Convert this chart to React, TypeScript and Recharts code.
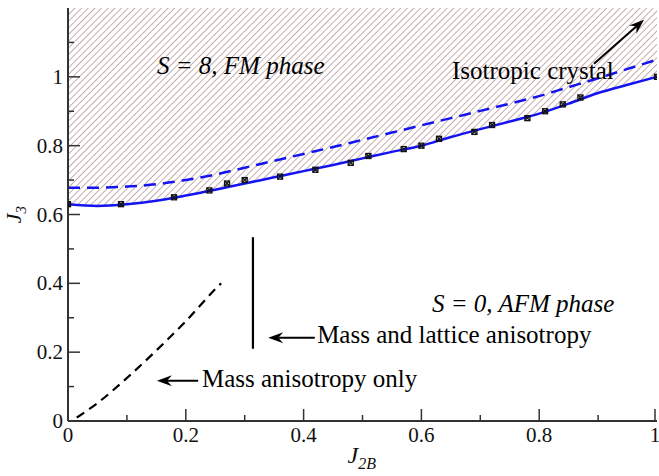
import React from "react";
import {
  ComposedChart,
  XAxis,
  YAxis,
  Line,
  Area,
  Scatter,
  ReferenceLine,
  ReferenceDot,
} from "recharts";

const FONT = "'Liberation Serif', 'Times New Roman', serif";
const BLUE = "#1414f0";
const FRAME = "#333";

// computed transition points (markers)
const pointJ2B = [0, 0.09, 0.18, 0.24, 0.27, 0.3, 0.36, 0.42, 0.48, 0.51, 0.57, 0.6, 0.63, 0.69, 0.72, 0.78, 0.81, 0.84, 0.87, 1.0];
const pointJ3 = [0.63, 0.63, 0.65, 0.67, 0.69, 0.7, 0.71, 0.73, 0.75, 0.77, 0.79, 0.8, 0.82, 0.84, 0.86, 0.88, 0.9, 0.92, 0.94, 1.0];

// smooth boundaries, sampled on the same J2B grid
const curveJ2B = [0, 0.05, 0.1, 0.15, 0.2, 0.25, 0.3, 0.35, 0.4, 0.45, 0.5, 0.55, 0.6, 0.65, 0.7, 0.75, 0.8, 0.85, 0.9, 0.95, 1.0];
const fitJ3 = [0.63, 0.625, 0.63, 0.64, 0.655, 0.672, 0.69, 0.708, 0.726, 0.744, 0.763, 0.782, 0.8, 0.825, 0.848, 0.87, 0.893, 0.922, 0.953, 0.977, 1.0];
const isoJ3 = [0.678, 0.678, 0.681, 0.688, 0.7, 0.716, 0.736, 0.756, 0.776, 0.796, 0.817, 0.838, 0.859, 0.88, 0.901, 0.922, 0.944, 0.97, 0.996, 1.023, 1.05];

// mass anisotropy only
const massJ2B = [0.015, 0.05, 0.1, 0.15, 0.2, 0.25, 0.26];
const massJ3 = [0.01, 0.052, 0.125, 0.205, 0.29, 0.383, 0.4];

// mass and lattice anisotropy
const latticeJ2B = [0.314, 0.314];
const latticeJ3 = [0.21, 0.534];

const xTicks = [0, 0.1, 0.2, 0.3, 0.4, 0.5, 0.6, 0.7, 0.8, 0.9, 1];
const yTicks = [0, 0.1, 0.2, 0.3, 0.4, 0.5, 0.6, 0.7, 0.8, 0.9, 1, 1.1];
const Y_TOP = 1.2;

const toPts = (xs: number[], ys: number[]) => xs.map((x, i) => ({ x, y: ys[i] }));
const pointData = toPts(pointJ2B, pointJ3);
const fitData = toPts(curveJ2B, fitJ3);
const isoData = toPts(curveJ2B, isoJ3);
const massData = toPts(massJ2B, massJ3);
const latticeData = toPts(latticeJ2B, latticeJ3);
const fmData = curveJ2B.map((x, i) => ({ x, band: [fitJ3[i], Y_TOP] }));

const isMajor = (v: number) => Math.round(v * 10) % 2 === 0;
const fmt = (v: number) => (v === 0 ? "0" : v === 1 ? "1" : v.toFixed(1));

const BottomTick = ({ x, y, payload }: any) => {
  const major = isMajor(payload.value);
  return (
    <g>
      <line x1={x} y1={y} x2={x} y2={y - (major ? 12 : 6)} stroke={FRAME} strokeWidth={1.5} />
      {major && (
        <text x={x} y={y + 21} textAnchor="middle" fontSize={21} fontFamily={FONT} fill="#111">
          {fmt(payload.value)}
        </text>
      )}
    </g>
  );
};

const TopTick = ({ x, y, payload }: any) => (
  <line x1={x} y1={y} x2={x} y2={y + (isMajor(payload.value) ? 12 : 6)} stroke={FRAME} strokeWidth={1.5} />
);

const LeftTick = ({ x, y, payload }: any) => {
  const major = isMajor(payload.value);
  return (
    <g>
      <line x1={x} y1={y} x2={x + (major ? 12 : 6)} y2={y} stroke={FRAME} strokeWidth={1.5} />
      {major && (
        <text x={x - 5} y={y + 7} textAnchor="end" fontSize={21} fontFamily={FONT} fill="#111">
          {fmt(payload.value)}
        </text>
      )}
    </g>
  );
};

const RightTick = ({ x, y, payload }: any) => (
  <line x1={x} y1={y} x2={x - (isMajor(payload.value) ? 12 : 6)} y2={y} stroke={FRAME} strokeWidth={1.5} />
);

const XTitle = ({ viewBox }: any) => (
  <text
    x={viewBox.x + viewBox.width / 2 - 15}
    y={viewBox.y + 42}
    fontFamily={FONT}
    fontStyle="italic"
    fontSize={24}
    fill="#111"
  >
    J<tspan fontSize={16} dy={6}>2B</tspan>
  </text>
);

const YTitle = ({ viewBox }: any) => (
  <text
    transform={`translate(${viewBox.x + 21},${viewBox.y + viewBox.height / 2}) rotate(-90)`}
    textAnchor="middle"
    fontFamily={FONT}
    fontStyle="italic"
    fontSize={22}
    fill="#111"
  >
    J<tspan fontSize={15} dy={5}>3</tspan>
  </text>
);

const Marker = ({ cx, cy }: any) => (
  <g stroke="#111" strokeWidth={1.3} fill="none">
    <rect x={cx - 2.5} y={cy - 2.5} width={5} height={5} />
    <path d={`M${cx - 2.5},${cy - 2.5}L${cx + 2.5},${cy + 2.5}M${cx + 2.5},${cy - 2.5}L${cx - 2.5},${cy + 2.5}`} />
  </g>
);

const arrowShape = (p: any) => {
  const { x1, y1, x2, y2 } = p;
  const a = Math.atan2(y2 - y1, x2 - x1);
  const L = 15;
  const W = 5.5;
  const bx = x2 - L * Math.cos(a);
  const by = y2 - L * Math.sin(a);
  const nx = x2 - 10 * Math.cos(a);
  const ny = y2 - 10 * Math.sin(a);
  const px = -Math.sin(a) * W;
  const py = Math.cos(a) * W;
  return (
    <g>
      <line x1={x1} y1={y1} x2={nx} y2={ny} stroke="#000" strokeWidth={2} />
      <path d={`M${x2},${y2}L${bx + px},${by + py}L${nx},${ny}L${bx - px},${by - py}Z`} fill="#000" />
    </g>
  );
};

const note = (txt: string, italic = false) => (p: any) => (
  <text
    x={p.cx}
    y={p.cy}
    fontFamily={FONT}
    fontStyle={italic ? "italic" : "normal"}
    fontSize={25}
    fill="#000"
  >
    {txt}
  </text>
);

export default function App() {
  return (
    <div style={{ position: "absolute", left: 0, top: 0, background: "#fff" }}>
      <ComposedChart width={659} height={476} margin={{ top: 8, right: 2, bottom: 0, left: 0 }}>
        <defs>
          <pattern id="hatch" patternUnits="userSpaceOnUse" width={4.7} height={4.7} patternTransform="rotate(45)">
            <line x1={2.35} y1={0} x2={2.35} y2={4.7} stroke="#c0a4a4" strokeWidth={0.9} />
          </pattern>
        </defs>
        <XAxis
          type="number"
          dataKey="x"
          domain={[0, 1]}
          ticks={xTicks}
          height={55}
          tickSize={0}
          tickMargin={0}
          tick={<BottomTick />}
          axisLine={{ stroke: FRAME, strokeWidth: 2 }}
          allowDataOverflow
          label={{ content: XTitle }}
        />
        <XAxis
          xAxisId="top"
          orientation="top"
          type="number"
          domain={[0, 1]}
          ticks={xTicks}
          height={0}
          tickSize={0}
          tickMargin={0}
          tick={<TopTick />}
          axisLine={{ stroke: FRAME, strokeWidth: 2 }}
          allowDataOverflow
        />
        <YAxis
          type="number"
          domain={[0, Y_TOP]}
          ticks={yTicks}
          width={68}
          tickSize={0}
          tickMargin={0}
          tick={<LeftTick />}
          axisLine={{ stroke: FRAME, strokeWidth: 2 }}
          allowDataOverflow
          label={{ content: YTitle }}
        />
        <YAxis
          yAxisId="right"
          orientation="right"
          type="number"
          domain={[0, Y_TOP]}
          ticks={yTicks}
          width={0}
          tickSize={0}
          tickMargin={0}
          tick={<RightTick />}
          axisLine={{ stroke: FRAME, strokeWidth: 2 }}
          allowDataOverflow
        />

        <Area
          data={fmData}
          dataKey="band"
          type="monotone"
          fill="url(#hatch)"
          fillOpacity={1}
          stroke="none"
          isAnimationActive={false}
        />
        <Line data={isoData} dataKey="y" type="monotone" stroke={BLUE} strokeWidth={2.5} strokeDasharray="12 7" dot={false} isAnimationActive={false} />
        <Line data={fitData} dataKey="y" type="monotone" stroke={BLUE} strokeWidth={2.5} dot={false} isAnimationActive={false} />
        <Line data={massData} dataKey="y" type="monotone" stroke="#000" strokeWidth={2.2} strokeDasharray="9 6" dot={false} isAnimationActive={false} />
        <Line data={latticeData} dataKey="y" type="linear" stroke="#000" strokeWidth={2.2} dot={false} isAnimationActive={false} />
        <Scatter data={pointData} dataKey="y" shape={<Marker />} isAnimationActive={false} />

        <ReferenceLine segment={[{ x: 0.893, y: 1.038 }, { x: 0.978, y: 1.166 }]} shape={arrowShape} ifOverflow="visible" />
        <ReferenceLine segment={[{ x: 0.419, y: 0.242 }, { x: 0.34, y: 0.242 }]} shape={arrowShape} ifOverflow="visible" />
        <ReferenceLine segment={[{ x: 0.221, y: 0.117 }, { x: 0.151, y: 0.117 }]} shape={arrowShape} ifOverflow="visible" />

        <ReferenceDot x={0.151} y={1.009} r={0} shape={note("S = 8, FM phase", true)} ifOverflow="visible" />
        <ReferenceDot x={0.652} y={0.994} r={0} shape={note("Isotropic crystal")} ifOverflow="visible" />
        <ReferenceDot x={0.618} y={0.318} r={0} shape={note("S = 0, AFM phase", true)} ifOverflow="visible" />
        <ReferenceDot x={0.423} y={0.227} r={0} shape={note("Mass and lattice anisotropy")} ifOverflow="visible" />
        <ReferenceDot x={0.2275} y={0.099} r={0} shape={note("Mass anisotropy only")} ifOverflow="visible" />
      </ComposedChart>
    </div>
  );
}
